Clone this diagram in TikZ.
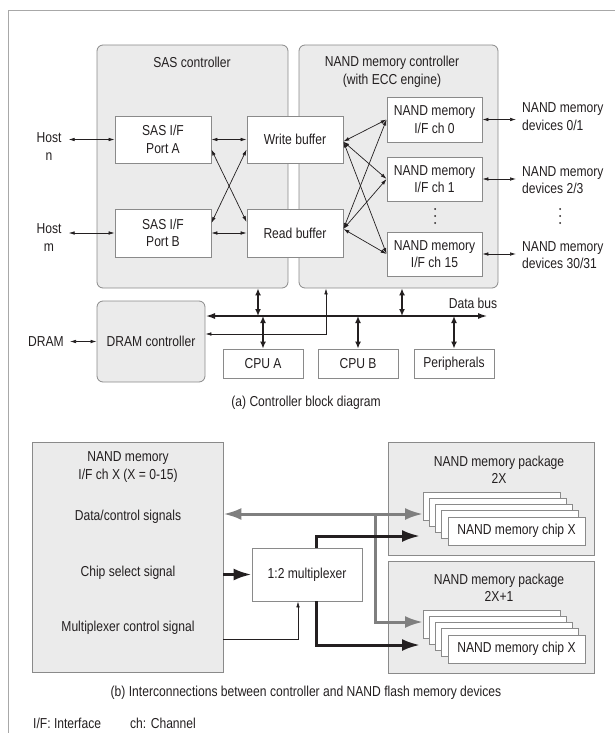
\documentclass[tikz,border=0pt]{standalone}
\usepackage{fontspec}
\setmainfont{Liberation Sans}[FakeStretch=0.84]
\usetikzlibrary{arrows.meta}
\definecolor{boxfill}{HTML}{EBEBEB}
\definecolor{edge}{HTML}{8A8A8A}
\definecolor{ink}{HTML}{231F20}
\definecolor{framec}{HTML}{A8A8A8}
\definecolor{grayarrow}{HTML}{7F7F7F}
\begin{document}
\begin{tikzpicture}[x=1pt,y=-1pt,
  every node/.style={font=\fontsize{14.4}{17.5}\selectfont, text=ink, align=center},
  grp/.style={draw=edge, fill=boxfill, rounded corners=6pt, line width=0.8pt, inner sep=0pt},
  sqgrp/.style={draw=edge, fill=boxfill, line width=0.8pt, inner sep=0pt},
  blk/.style={draw=edge, fill=white, line width=0.8pt, inner sep=0pt},
  lbl/.style={inner sep=2pt},
  tarr/.style={draw=ink, line width=0.7pt, {Latex[length=6pt,width=3.6pt]}-{Latex[length=6pt,width=3.6pt]}},
  tarrend/.style={draw=ink, line width=0.7pt, -{Latex[length=6pt,width=3.6pt]}},
  varr/.style={draw=ink, line width=1.8pt, {Latex[length=7pt,width=6pt]}-{Latex[length=7pt,width=6pt]}},
  busarr/.style={draw=ink, line width=2.4pt, {Latex[length=10pt,width=6pt]}-{Latex[length=10pt,width=6pt]}},
  grayboth/.style={draw=grayarrow, line width=3pt, {Latex[length=18pt,width=12pt]}-{Latex[length=18pt,width=12pt]}},
  grayend/.style={draw=grayarrow, line width=3pt, -{Latex[length=18pt,width=12pt]}},
  blkarr/.style={draw=ink, line width=3pt, -{Latex[length=18pt,width=12pt]}},
  dot/.style={fill=ink, draw=none, circle, inner sep=0pt, minimum size=2pt}
]
\useasboundingbox (0,0) rectangle (615,733);
% frame
\draw[framec, line width=1pt] (615,11) -- (8,11) -- (8,733);

% ---------- (a) ----------
\node[grp, minimum width=191pt, minimum height=243pt] (sas) at (192.5,166.5) {};
\node[grp, minimum width=199pt, minimum height=243pt] (nandc) at (398.5,166.5) {};
\node[lbl] (sastitle) at (192,62) {SAS controller};
\node[lbl] (nandtitle) at (392,72) {NAND memory controller\\(with ECC engine)};

\node[blk, minimum width=96pt, minimum height=47pt] (portA) at (163,139.5) {SAS I/F\\Port A};
\node[blk, minimum width=96pt, minimum height=48pt] (portB) at (163,233) {SAS I/F\\Port B};
\node[blk, minimum width=96pt, minimum height=47pt] (wb) at (295,139.5) {Write buffer};
\node[blk, minimum width=96pt, minimum height=48pt] (rb) at (295,233) {Read buffer};
\node[blk, minimum width=95pt, minimum height=45pt] (ch0) at (434.5,119.5) {NAND memory\\I/F ch 0};
\node[blk, minimum width=95pt, minimum height=44pt] (ch1) at (434.5,179) {NAND memory\\I/F ch 1};
\node[blk, minimum width=95pt, minimum height=44pt] (ch15) at (434.5,254) {NAND memory\\I/F ch 15};
\node[dot] (d1) at (435,209) {};
\node[dot] (d2) at (435,216) {};
\node[dot] (d3) at (435,223) {};

\node[lbl] (hostn) at (49,146.5) {Host\\n};
\node[lbl] (hostm) at (49,237.5) {Host\\m};

\node[lbl, anchor=west, align=left] (dev0) at (520,116.5) {NAND memory\\devices 0/1};
\node[lbl, anchor=west, align=left] (dev1) at (520,180) {NAND memory\\devices 2/3};
\node[lbl, anchor=west, align=left] (dev15) at (520,255) {NAND memory\\devices 30/31};
\node[dot] (e1) at (560,209) {};
\node[dot] (e2) at (560,216) {};
\node[dot] (e3) at (560,223) {};

\draw[tarr, shorten <=5pt] (hostn.east |- portA.west) -- (portA.west);
\draw[tarr, shorten <=5pt] (hostm.east |- portB.west) -- (portB.west);
\draw[tarr] (portA.east) -- (wb.west);
\draw[tarr] (portB.east) -- (rb.west);
\draw[tarr] ([yshift=-10pt]portA.east) -- ([yshift=11pt]rb.west);
\draw[tarr] ([yshift=10pt]portB.east) -- ([yshift=-10pt]wb.west);
\foreach \c in {ch0,ch1,ch15}{
  \draw[tarr] ([yshift=-2pt]wb.east) -- (\c.west);
  \draw[tarr] ([yshift=4pt]rb.east) -- (\c.west);
}
\draw[tarr, shorten >=4pt] (ch0.east) -- (ch0.east -| dev0.west);
\draw[tarr, shorten >=4pt] (ch1.east) -- (ch1.east -| dev1.west);
\draw[tarr, shorten >=4pt] (ch15.east) -- (ch15.east -| dev15.west);

\node[grp, minimum width=108pt, minimum height=81pt] (dramc) at (151,341.5) {DRAM controller};
\node[lbl] (dram) at (46,342) {DRAM};
\draw[tarr, shorten <=4pt] (dram.east |- dramc.west) -- (dramc.west);

\node[blk, minimum width=80pt, minimum height=29pt] (cpuA) at (263,363.5) {CPU A};
\node[blk, minimum width=80pt, minimum height=29pt] (cpuB) at (358,363.5) {CPU B};
\node[blk, minimum width=80pt, minimum height=29pt] (periph) at (454,363.5) {Peripherals};

\coordinate (busR) at (488,316);
\coordinate (busL) at (205,316);
\draw[busarr] (busL) -- (busR);
\node[lbl] (databus) at (473,303) {Data bus};

\coordinate (j1) at (326,334);
\draw[tarr] (dramc.east |- j1) -- (j1) -- (j1 |- nandc.south);

\coordinate (v1) at (258,316);
\coordinate (v2) at (402,316);
\draw[varr] (v1 |- sas.south) -- (v1);
\draw[varr] (v2 |- nandc.south) -- (v2);
\draw[varr] (cpuA.north |- busR) -- (cpuA.north);
\draw[varr] (cpuB.north |- busR) -- (cpuB.north);
\draw[varr] (periph.north |- busR) -- (periph.north);

\node[lbl] (capa) at (306,403) {(a) Controller block diagram};

% ---------- (b) ----------
\node[sqgrp, minimum width=191pt, minimum height=230pt] (chX) at (127.5,557) {};
\node[lbl] (chXt) at (128,467) {NAND memory\\I/F ch X (X = 0-15)};
\node[lbl] (sigdc) at (128,517) {Data/control signals};
\node[lbl] (sigcs) at (128,573) {Chip select signal};
\node[lbl] (sigmc) at (128,628) {Multiplexer control signal};

\node[blk, minimum width=110pt, minimum height=53pt] (mux) at (307,574.5) {1:2 multiplexer};

\node[sqgrp, minimum width=206pt, minimum height=113pt] (pkg0) at (491,498.5) {};
\node[sqgrp, minimum width=206pt, minimum height=112pt] (pkg1) at (491,617) {};
\node[lbl] (pkg0t) at (499,470) {NAND memory package\\2X};
\node[lbl] (pkg1t) at (499,588) {NAND memory package\\2X+1};

\foreach \i in {0,1,2,3}{
  \node[blk, minimum width=137pt, minimum height=28pt] (ca\i) at ({491.5+6.25*\i},{506+6.25*\i}) {};
  \node[blk, minimum width=137pt, minimum height=28pt] (cb\i) at ({491.5+6.25*\i},{624+6.25*\i}) {};
}
\node[blk, minimum width=137pt, minimum height=28pt] (ca4) at (516.5,531) {NAND memory chip X};
\node[blk, minimum width=137pt, minimum height=28pt] (cb4) at (516.5,649) {NAND memory chip X};

% gray data/control
\coordinate (gA) at (423,514);
\coordinate (gB) at (423,622);
\coordinate (gj) at (375,514);
\draw[grayboth] (gA -| chX.east) -- (gA);
\draw[grayend] (gj) |- (gB);

% black chip select
\coordinate (bA) at (420,536);
\coordinate (bB) at (420,645);
\draw[blkarr] (mux.west -| chX.east) -- (mux.west);
\draw[blkarr] ([xshift=9pt]mux.north) |- (bA);
\draw[blkarr] ([xshift=9pt]mux.south) |- (bB);

% multiplexer control
\coordinate (mc) at (223,639);
\draw[tarrend] (mc -| chX.east) -| ([xshift=-9pt]mux.south);

\node[lbl] (capb) at (306,693) {(b) Interconnections between controller and NAND flash memory devices};
\node[lbl, anchor=west] (legif) at (31,723) {I/F: Interface};
\node[lbl, anchor=west] (legch) at (128,723) {ch: Channel};
\end{tikzpicture}
\end{document}
